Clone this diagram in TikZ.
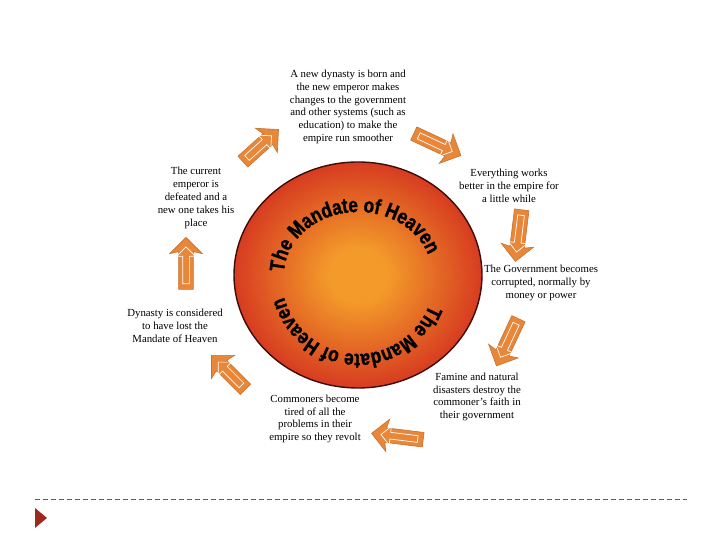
\documentclass[tikz,border=0pt]{standalone}
\usepackage{fontspec}
\setmainfont{Liberation Serif}
\newfontfamily\headfont{Liberation Sans}[FakeStretch=0.82,BoldFeatures={FakeBold=1.2}]
\usetikzlibrary{shapes.geometric,shapes.arrows,decorations.text}

\definecolor{arroworange}{HTML}{E8873A}
\definecolor{heavencore}{HTML}{F39A2A}
\definecolor{heavenedge}{HTML}{CF231E}
\definecolor{heavenrim}{HTML}{3E0B08}
\definecolor{rulebrown}{HTML}{8A4A3E}
\definecolor{bulletred}{HTML}{9E2A1E}

\pgfdeclareradialshading{heavenshade}{\pgfpoint{0bp}{0bp}}%
  {color(0bp)=(heavencore); color(6bp)=(heavencore); color(30bp)=(heavenedge); color(50bp)=(heavenedge)}
\newcommand\mandatestyle{\headfont\bfseries\fontsize{21}{23}\selectfont}

\begin{document}
\begin{tikzpicture}
  [x=1pt,y=1pt,
   every node/.style={font=\fontsize{10.8}{12.8}\selectfont,align=center,inner sep=0pt},
   bigarrow/.style={single arrow,fill=arroworange,draw=arroworange!85!black,line width=.6pt,
     inner ysep=7pt,single arrow head extend=9pt,single arrow head indent=2pt},
   arrowline/.style={single arrow,draw=white,line width=.7pt,inner ysep=3pt,
     single arrow head extend=6pt},
   heaven/.style={ellipse,minimum width=248pt,minimum height=226pt,
     shading=heavenshade,draw=heavenrim,line width=1.4pt}]

  \fill[white] (0,0) rectangle (720,540);
  \useasboundingbox (0,0) rectangle (720,540);

  \node[heaven] (heaven) at (358,265) {};

  \path[decorate,decoration={text along path,text align=center,
      text={|\mandatestyle|The Mandate of Heaven}}]
    (heaven.center) ++(198:74pt and 63pt)
    arc[start angle=198,end angle=-2,x radius=74pt,y radius=63pt];
  \path[decorate,decoration={text along path,text align=center,
      text={|\mandatestyle|The Mandate of Heaven}}]
    (heaven.center) ++(7:77pt and 79pt)
    arc[start angle=7,end angle=-193,x radius=77pt,y radius=79pt];

  \node (born) at (348,433) {A new dynasty is born and\\the new emperor makes\\changes to the government\\and other systems (such as\\education) to make the\\empire run smoother};
  \node (better) at (509,354) {Everything works\\better in the empire for\\a little while};
  \node (corrupt) at (541,257) {The Government becomes\\corrupted, normally by\\money or power};
  \node (famine) at (477,143) {Famine and natural\\disasters destroy the\\commoner's faith in\\their government};
  \node (revolt) at (315,121) {Commoners become\\tired of all the\\problems in their\\empire so they revolt};
  \node (lost) at (175,214) {Dynasty is considered\\to have lost the\\Mandate of Heaven};
  \node (defeat) at (196,342) {The current\\emperor is\\defeated and a\\new one takes his\\place};

  \foreach \nm/\x/\y/\ang/\len in {arrA/258/392/42/48,arrB/434/397/-25/52,
      arrC/519/308/-97/52,arrD/509/201/-115/52,arrE/401/103/173/52,
      arrF/231/165/135/48,arrG/186/273/90/52}
  {
    \node[bigarrow,rotate=\ang,minimum height=\len] (\nm) at (\x,\y) {};
    \node[arrowline,rotate=\ang,minimum height=\len-15] (\nm-in) at (\nm.center) {};
  }

  \coordinate (ruleL) at (35,41);
  \coordinate (ruleR) at (687,41);
  \draw[rulebrown,line width=.8pt,dash pattern=on 5pt off 3pt] (ruleL) -- (ruleR);
  \fill[bulletred] (35,32) -- (47,22) -- (35,12) -- cycle;
\end{tikzpicture}
\end{document}
